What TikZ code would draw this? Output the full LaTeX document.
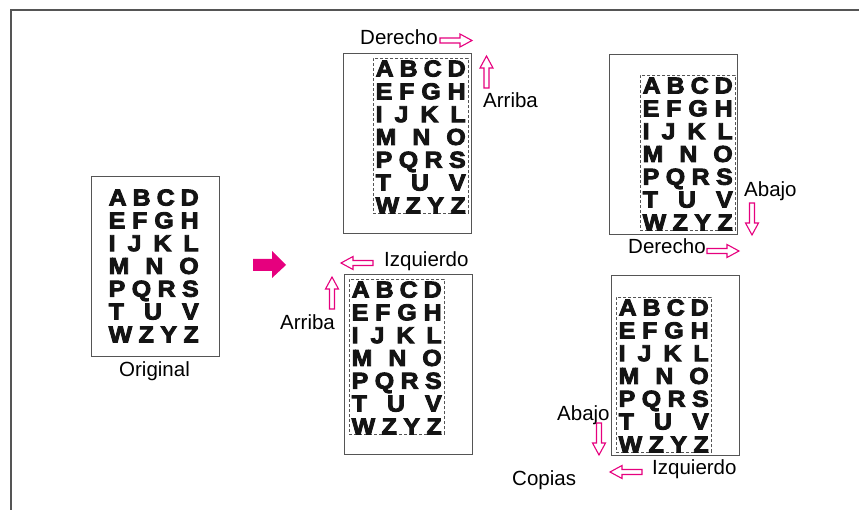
\documentclass[tikz,border=0pt]{standalone}
\usepackage{fontspec}
\setmainfont{Liberation Sans}
\newfontface\heavyface[FakeBold=4,FakeStretch=1.08]{Liberation Sans Bold}
\definecolor{mag}{RGB}{230,0,126}
\definecolor{boxgray}{RGB}{85,85,85}
\newcommand\lblfont{\fontsize{20.5}{24}\selectfont}
\newcommand\ltrfont{\heavyface\fontsize{23}{26}\selectfont}
\tikzset{
  page/.style={draw=boxgray, line width=1.3pt},
  cutbox/.style={draw=boxgray, line width=0.9pt, dash pattern=on 3pt off 2pt},
  lbl/.style={anchor=base west, inner sep=0pt, font=\lblfont},
  ltr/.style={anchor=base west, inner sep=0pt, font=\ltrfont, text=black!92},
  hollow/.style={draw=mag, line width=1.1pt, fill=white},
}
% letter block: #1,#2 = top-left of block area, #3 = name prefix
\newcommand\lettergrid[3]{%
  \foreach \r [count=\i from 0] in {{A\hfill B\hfill C\hfill D},{E\hfill F\hfill G\hfill H},{I\hfill J\hfill K\hfill L},{M\hfill N\hfill O},{P\hfill Q\hfill R\hfill S},{T\hfill U\hfill V},{W\hfill Z\hfill Y\hfill Z}}{%
    \node[ltr] (#3row\i) at ({#1+2.5},{#2+18.5+\i*22.8}) {\hbox to 90pt{\r}};
  }%
}
% hollow arrow: #1,#2 tail, #3 rotation (0 = right, -90 = down, 90 = up, 180 = left)
\newcommand\harrow[3]{%
  \begin{scope}[shift={(#1,#2)}, rotate=#3]
    \draw[hollow] (0,-2.5) -- (20,-2.5) -- (20,-6.5) -- (32,0) -- (20,6.5) -- (20,2.5) -- (0,2.5) -- cycle;
  \end{scope}%
}
\begin{document}
\begin{tikzpicture}[x=1pt,y=-1pt]
\useasboundingbox (0,0) rectangle (859,510);
% outer frame
\draw[draw=boxgray, line width=1.5pt] (11,510) -- (11,10) -- (859,10);

% Original
\node[page, minimum width=128pt, minimum height=180pt, inner sep=0pt, anchor=north west] (orig) at (91,176) {};
\lettergrid{106}{187}{o}
\node[lbl] (origlbl) at (119,377) {Original};

% big arrow
\fill[mag] (253,259) -- (272,259) -- (272,251) -- (286,265) -- (272,278) -- (272,271) -- (253,271) -- cycle;

% Copy top-middle
\node[page, minimum width=128pt, minimum height=180pt, inner sep=0pt, anchor=north west] (tm) at (343,53) {};
\node[cutbox, minimum width=95pt, minimum height=155pt, inner sep=0pt, anchor=north west] (tmcut) at (373,58) {};
\lettergrid{373}{58}{tm}
\node[lbl] (tmder) at (360,45) {Derecho};
\harrow{440}{40.5}{0}
\node[lbl] (tmarr) at (483,108) {Arriba};
\harrow{486.5}{88}{90}

% Copy top-right
\node[page, minimum width=128pt, minimum height=180pt, inner sep=0pt, anchor=north west] (tr) at (609,54) {};
\node[cutbox, minimum width=95pt, minimum height=155pt, inner sep=0pt, anchor=north west] (trcut) at (640,75) {};
\lettergrid{640}{75}{tr}
\node[lbl] (trab) at (744,197) {Abajo};
\harrow{752}{203}{-90}
\node[lbl] (trder) at (628,254) {Derecho};
\harrow{707}{251}{0}

% Copy bottom-middle
\node[page, minimum width=128pt, minimum height=180pt, inner sep=0pt, anchor=north west] (bm) at (344,274) {};
\node[cutbox, minimum width=95pt, minimum height=155pt, inner sep=0pt, anchor=north west] (bmcut) at (349,279) {};
\lettergrid{349}{279}{bm}
\node[lbl] (bmizq) at (384,267) {Izquierdo};
\harrow{373}{263}{180}
\node[lbl] (bmarr) at (280,330) {Arriba};
\harrow{332}{309}{90}

% Copy bottom-right
\node[page, minimum width=128pt, minimum height=180pt, inner sep=0pt, anchor=north west] (br) at (611,275) {};
\node[cutbox, minimum width=95pt, minimum height=155pt, inner sep=0pt, anchor=north west] (brcut) at (616,297) {};
\lettergrid{616}{297}{br}
\node[lbl] (brab) at (557,420) {Abajo};
\harrow{599}{423}{-90}
\node[lbl] (brizq) at (652,474) {Izquierdo};
\harrow{642}{472}{180}
\node[lbl] (copias) at (512,485) {Copias};
\end{tikzpicture}
\end{document}
